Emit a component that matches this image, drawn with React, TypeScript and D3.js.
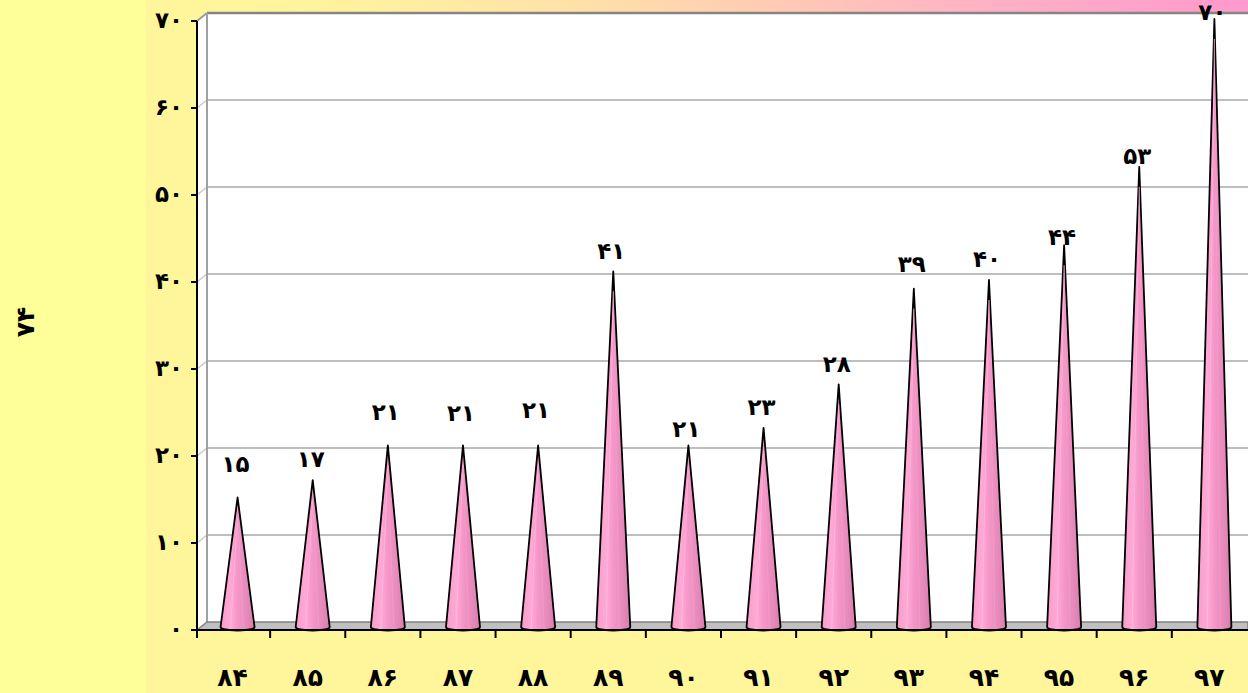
import React from "react";
import * as d3 from "d3";

const categories: number[] = [84, 85, 86, 87, 88, 89, 90, 91, 92, 93, 94, 95, 96, 97];
const values: number[] = [15, 17, 21, 21, 21, 41, 21, 23, 28, 39, 40, 44, 53, 70];
const yTicks: number[] = [0, 10, 20, 30, 40, 50, 60, 70];
const axisTitle = "۷۴";
// per-label vertical lift above the cone tip (px), as placed in the picture
const labelLift: number[] = [32, 20, 32, 31, 34, 19, 15, 20, 19, 24, 20, 7, 10, 6];

const fa = (n: number | string) => String(n).replace(/\d/g, (d) => "۰۱۲۳۴۵۶۷۸۹"[+d]);

const W = 1248;
const H = 693;
const DX = 10;
const DY = -8;

export default function App() {
  const x = d3.scaleBand<number>().domain(categories).range([195, 195 + 14 * 75.14]).padding(0);
  const y = d3.scaleLinear().domain([0, 70]).range([630, 21]);
  const axisX = 197;
  const floorY = y(0);
  const wallX = axisX + DX;
  const font = "'DejaVu Sans', sans-serif";
  const halfBase = 17;

  return (
    <svg width={W} height={H} style={{ position: "absolute", left: 0, top: 0 }} fontFamily={font}>
      <defs>
        <radialGradient
          id="bg"
          gradientUnits="userSpaceOnUse"
          cx={1248}
          cy={0}
          r={1000}
          gradientTransform="translate(1248,0) scale(1,0.6) translate(-1248,0)"
        >
          <stop offset="0" stopColor="#FF99CC" />
          <stop offset="0.25" stopColor="#FFB0C6" />
          <stop offset="0.45" stopColor="#FFC8B6" />
          <stop offset="0.66" stopColor="#FFE0A8" />
          <stop offset="0.87" stopColor="#FFF0A0" />
          <stop offset="1" stopColor="#FFF59A" />
        </radialGradient>
        <linearGradient id="cone" x1="0" y1="0" x2="1" y2="0">
          <stop offset="0" stopColor="#F79CCB" />
          <stop offset="0.3" stopColor="#FFA9D6" />
          <stop offset="0.5" stopColor="#F596C8" />
          <stop offset="0.8" stopColor="#E589BA" />
          <stop offset="1" stopColor="#D97CAD" />
        </linearGradient>
      </defs>
      <rect x={0} y={0} width={W} height={H} fill="#FFFF99" />
      <rect x={146} y={0} width={W - 146} height={H} fill="url(#bg)" />

      {/* back wall */}
      <rect x={wallX} y={y(70) + DY} width={W - wallX} height={floorY - y(70)} fill="#FFFFFF" />
      {/* side wall */}
      <path
        d={`M${axisX},${y(70)} L${wallX},${y(70) + DY} L${wallX},${floorY + DY} L${axisX},${floorY} Z`}
        fill="#FFFFFF"
      />
      {/* gridlines */}
      {yTicks
        .filter((t) => t > 0 && t < 70)
        .map((t) => (
          <g key={`g${t}`}>
            <line x1={wallX} x2={W} y1={y(t) + DY} y2={y(t) + DY} stroke="#BEBEBE" strokeWidth={2} />
            <line x1={axisX} x2={wallX} y1={y(t)} y2={y(t) + DY} stroke="#C8C8C8" strokeWidth={1.5} />
          </g>
        ))}
      {/* top border */}
      <line x1={wallX} x2={W} y1={y(70) + DY} y2={y(70) + DY} stroke="#858585" strokeWidth={2.5} />
      <line x1={axisX} x2={wallX} y1={y(70)} y2={y(70) + DY} stroke="#9A9A9A" strokeWidth={2} />
      <line x1={wallX} x2={wallX} y1={y(70) + DY} y2={floorY + DY} stroke="#A0A0A0" strokeWidth={2} />
      {/* floor */}
      <path
        d={`M${axisX},${floorY} L${wallX},${floorY + DY} L${W},${floorY + DY} L${W},${floorY} Z`}
        fill="#C0C0C0"
        stroke="#808080"
        strokeWidth={1.5}
      />

      {/* cones */}
      {values.map((v, i) => {
        const cx = (x(categories[i]) as number) + x.bandwidth() / 2 + 5;
        const top = y(v) - 2;
        const by = floorY - 3;
        return (
          <g key={`c${i}`}>
            <path
              d={`M${cx},${top} L${cx - halfBase},${by} A${halfBase},3.5 0 0 0 ${cx + halfBase},${by} Z`}
              fill="url(#cone)"
              stroke="#000"
              strokeWidth={1.8}
              strokeLinejoin="round"
            />
            <line x1={cx} y1={top + 20} x2={cx - 7} y2={by + 2} stroke="#FFC4E2" strokeWidth={0.8} opacity={0.7} />
            <line x1={cx} y1={top + 20} x2={cx + 6} y2={by + 2} stroke="#F2A6CC" strokeWidth={0.8} opacity={0.7} />
          </g>
        );
      })}

      {/* axes */}
      <line x1={axisX} x2={axisX} y1={y(70)} y2={floorY + 8} stroke="#000" strokeWidth={2} />
      <line x1={axisX - 6} x2={W} y1={floorY} y2={floorY} stroke="#000" strokeWidth={2} />
      {yTicks.map((t) => (
        <g key={`yt${t}`}>
          <line x1={axisX - 6} x2={axisX} y1={y(t)} y2={y(t)} stroke="#000" strokeWidth={2} />
          <text
            x={183}
            y={y(t)}
            dy="0.3em"
            textAnchor="end"
            fontSize={23}
            fontWeight="bold"
            fill="#000"
          >
            {fa(t)}
          </text>
        </g>
      ))}
      {categories.map((c, i) => (
        <g key={`xt${c}`}>
          <line
            x1={(x(c) as number) + (i === 0 ? 2 : 0)}
            x2={(x(c) as number) + (i === 0 ? 2 : 0)}
            y1={floorY}
            y2={floorY + 8}
            stroke="#000"
            strokeWidth={2}
          />
          <text
            x={(x(c) as number) + x.bandwidth() / 2}
            y={678}
            dy="0.3em"
            textAnchor="middle"
            fontSize={25}
            fontWeight="bold"
            fill="#000"
          >
            {fa(c)}
          </text>
        </g>
      ))}

      {/* data labels */}
      {values.map((v, i) => {
        const cx = (x(categories[i]) as number) + x.bandwidth() / 2 + 3;
        return (
          <text
            key={`l${i}`}
            x={cx}
            y={y(v) - 2 - labelLift[i]}
            dy="0.3em"
            textAnchor="middle"
            fontSize={23}
            fontWeight="bold"
            fill="#000"
          >
            {fa(v)}
          </text>
        );
      })}

      <text
        transform={`translate(26,322) rotate(-90)`}
        textAnchor="middle"
        dy="0.3em"
        fontSize={25}
        fontWeight="bold"
        fill="#000"
      >
        {axisTitle}
      </text>
    </svg>
  );
}
